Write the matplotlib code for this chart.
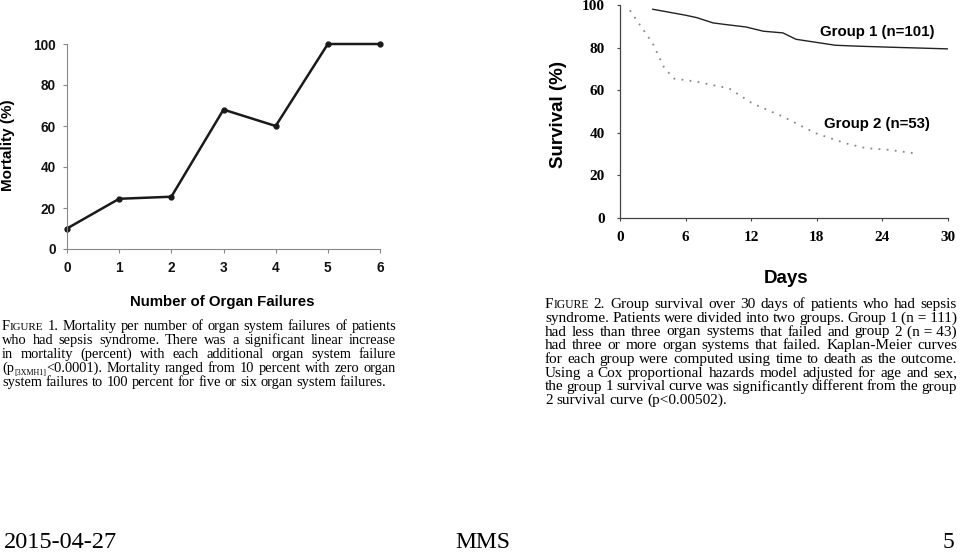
import matplotlib
matplotlib.use("Agg")
import matplotlib.pyplot as plt

W, H, DPI = 960, 552, 100

# Figure 1: mortality by number of organ failures
organ_failures = [0, 1, 2, 3, 4, 5, 6]
mortality = [10, 24.5, 25.5, 68, 60, 100, 100]

# Figure 2: survival curves
g1_days = [3, 6, 7, 8.5, 9.7, 11.5, 13.1, 14.9, 16.1, 17.9, 19.7, 21.6, 24.6, 30]
g1_surv = [98, 95.2, 94.1, 91.6, 90.8, 89.7, 87.7, 86.9, 83.9, 82.5, 81.1, 80.7, 80.2, 79.4]
g2_days = [0.9, 3.0, 4.0, 4.9, 7.0, 10.0, 12.1, 14.9, 17.9, 20.6, 22.5, 24.6, 26.9]
g2_surv = [97.5, 81.9, 71, 65.5, 64, 60.8, 53.8, 47.6, 39.8, 35.1, 32.8, 32, 30.4]
day_ticks = [0, 6, 12, 18, 24, 30]
pct_ticks = [0, 20, 40, 60, 80, 100]

# "FIGURE" is drawn in small caps, "_{...}" marks a subscript
caption1 = [
    "FIGURE 1. Mortality per number of organ system failures of patients",
    "who had sepsis syndrome. There was a significant linear increase",
    "in mortality (percent) with each additional organ system failure",
    "(p_{[3XMH1]}<0.0001). Mortality ranged from 10 percent with zero organ",
    "system failures to 100 percent for five or six organ system failures.",
]
caption2 = [
    "FIGURE 2. Group survival over 30 days of patients who had sepsis",
    "syndrome. Patients were divided into two groups. Group 1 (n\u00a0=\u00a0111)",
    "had less than three organ systems that failed and group 2 (n\u00a0=\u00a043)",
    "had three or more organ systems that failed. Kaplan-Meier curves",
    "for each group were computed using time to death as the outcome.",
    "Using a Cox proportional hazards model adjusted for age and sex,",
    "the group 1 survival curve was significantly different from the group",
    "2 survival curve (p<0.00502).",
]

SANS = "Liberation Sans"
SERIF = "Liberation Serif"

fig = plt.figure(figsize=(W / DPI, H / DPI), dpi=DPI)


def px_axes(left, top, right, bottom):
    return fig.add_axes([left / W, 1 - bottom / H, (right - left) / W, (bottom - top) / H])


# ---- left chart ----
ax1 = px_axes(67, 44, 380, 249)
ax1.plot(organ_failures, mortality, color="#1a1a1a", lw=1.8, marker="o", ms=3.5, clip_on=False)
ax1.set_xlim(0, 6)
ax1.set_ylim(0, 100)
ax1.set_xticks(organ_failures)
ax1.set_yticks(pct_ticks)
for s in ("top", "right"):
    ax1.spines[s].set_visible(False)
for s in ("left", "bottom"):
    ax1.spines[s].set_color("#888888")
    ax1.spines[s].set_linewidth(0.8)
ax1.tick_params(axis="both", direction="out", length=3, width=0.8, color="#888888")
ax1.tick_params(axis="x", pad=6)
ax1.tick_params(axis="y", pad=5)
for lab in ax1.get_xticklabels() + ax1.get_yticklabels():
    lab.set_fontfamily(SANS)
    lab.set_fontweight("bold")
    lab.set_fontsize(9.8)
    lab.set_color("#111111")
ax1.set_ylabel("Mortality (%)", family=SANS, weight="bold", fontsize=11, va="center")
ax1.yaxis.set_label_coords(-0.188, 0.507)
ax1.set_xlabel("Number of Organ Failures", family=SANS, weight="bold", fontsize=10.8, va="center")
ax1.xaxis.set_label_coords(0.495, -0.259)

# ---- right chart ----
ax2 = px_axes(620, 5, 948, 218)
ax2.plot(g1_days, g1_surv, color="#222222", lw=1.0)
ax2.plot(g2_days, g2_surv, color="#888888", lw=1.3, linestyle=(0, (1, 3.5)))
ax2.set_xlim(0, 30)
ax2.set_ylim(0, 100)
ax2.set_xticks(day_ticks)
ax2.set_yticks(pct_ticks)
for s in ("top", "right"):
    ax2.spines[s].set_visible(False)
for s in ("left", "bottom"):
    ax2.spines[s].set_color("#444444")
    ax2.spines[s].set_linewidth(0.9)
ax2.tick_params(axis="both", direction="out", length=2, width=0.8, color="#444444")
ax2.tick_params(axis="x", pad=7.5)
ax2.tick_params(axis="y", pad=9)
for lab in ax2.get_xticklabels() + ax2.get_yticklabels():
    lab.set_fontfamily(SERIF)
    lab.set_fontweight("bold")
    lab.set_fontsize(11)
ax2.set_ylabel("Survival (%)", family=SANS, weight="bold", fontsize=13.5, va="center")
ax2.yaxis.set_label_coords(-0.189, 0.484)
ax2.set_xlabel("Days", family=SANS, weight="bold", fontsize=13.5, va="center")
ax2.xaxis.set_label_coords(0.506, -0.282)
ax2.text(23.5, 87.3, "Group 1 (n=101)", family=SANS, weight="bold", fontsize=10.8,
         ha="center", va="center")
ax2.text(23.5, 44.1, "Group 2 (n=53)", family=SANS, weight="bold", fontsize=10.8,
         ha="center", va="center")


# ---- justified captions ----
def word_segments(w, size):
    # returns (text, fontsize, baseline shift in px)
    if w == "FIGURE":
        return [("F", size, 0), ("IGURE", size * 0.76, 0)]
    if "_{" in w:
        head, rest = w.split("_{", 1)
        sub, tail = rest.split("}", 1)
        return [(head, size, 0), (sub, size * 0.55, -2.5), (tail, size, 0)]
    return [(w, size, 0)]


def draw_justified(lines, x0, x1, y_base, dy, size):
    r = fig.canvas.get_renderer()
    for i, line in enumerate(lines):
        items = []
        for w in line.split(" "):
            segs = word_segments(w, size)
            arts = [fig.text(0, 0, s, fontsize=fs, family=SERIF, color="black", va="baseline")
                    for s, fs, _ in segs]
            widths = [a.get_window_extent(r).width for a in arts]
            shifts = [sh for _, _, sh in segs]
            items.append((arts, widths, shifts))
        total = sum(sum(wd) for _, wd, _ in items)
        if i < len(lines) - 1 and len(items) > 1:
            gap = (x1 - x0 - total) / (len(items) - 1)
        else:
            gap = size * 0.25 * DPI / 72
        x = x0
        yb = y_base + i * dy
        for arts, widths, shifts in items:
            for a, wd, sh in zip(arts, widths, shifts):
                a.set_position((x / W, 1 - (yb - sh) / H))
                x += wd
            x += gap


draw_justified(caption1, 2, 396, 330, 14.1, 10.4)
draw_justified(caption2, 545, 957, 308, 13.75, 11)

# ---- footer ----
fig.text(4 / W, 1 - 548 / H, "2015-04-27", family=SERIF, fontsize=17.5, va="baseline", ha="left")
fig.text(483 / W, 1 - 548 / H, "MMS", family=SERIF, fontsize=17, va="baseline", ha="center")
fig.text(954 / W, 1 - 548 / H, "5", family=SERIF, fontsize=17, va="baseline", ha="right")

fig.savefig("out.png", dpi=DPI)
